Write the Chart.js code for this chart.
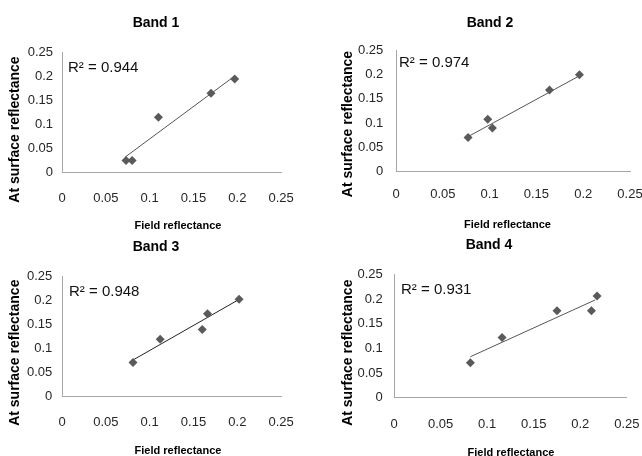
<!DOCTYPE html>
<html>
<head>
<meta charset="utf-8">
<script src="https://cdn.jsdelivr.net/npm/chart.js@4"></script>
<style>
  html, body { margin: 0; padding: 0; background: #fff; }
  body { width: 642px; height: 456px; position: relative; overflow: hidden; }
  canvas { position: absolute; }
</style>
</head>
<body>
<canvas id="band1"></canvas>
<canvas id="band2"></canvas>
<canvas id="band3"></canvas>
<canvas id="band4"></canvas>
<script>
// Values
const bandNames = ['Band 1', 'Band 2', 'Band 3', 'Band 4'];
const r2Values = [0.944, 0.974, 0.948, 0.931];

const fieldB1 = [0.073, 0.080, 0.110, 0.170, 0.197];
const surfaceB1 = [0.024, 0.024, 0.114, 0.164, 0.194];
const fieldB2 = [0.077, 0.098, 0.103, 0.164, 0.196];
const surfaceB2 = [0.070, 0.108, 0.090, 0.168, 0.199];
const fieldB3 = [0.081, 0.112, 0.160, 0.166, 0.202];
const surfaceB3 = [0.071, 0.119, 0.139, 0.172, 0.202];
const fieldB4 = [0.082, 0.116, 0.175, 0.212, 0.218];
const surfaceB4 = [0.071, 0.122, 0.176, 0.176, 0.206];

// Trend line ends (field, surface)
const trendXB1 = [0.072, 0.197], trendYB1 = [0.031, 0.200];
const trendXB2 = [0.077, 0.196], trendYB2 = [0.072, 0.197];
const trendXB3 = [0.081, 0.202], trendYB3 = [0.076, 0.2015];
const trendXB4 = [0.082, 0.216], trendYB4 = [0.083, 0.198];

const tickValues = [0, 0.05, 0.1, 0.15, 0.2, 0.25];
const tickLabels = ['0', '0.05', '0.1', '0.15', '0.2', '0.25'];

const xTitle = 'Field reflectance';
const yTitle = 'At surface reflectance';

const fieldData = [fieldB1, fieldB2, fieldB3, fieldB4];
const surfaceData = [surfaceB1, surfaceB2, surfaceB3, surfaceB4];
const trendX = [trendXB1, trendXB2, trendXB3, trendXB4];
const trendY = [trendYB1, trendYB2, trendYB3, trendYB4];

// Where each panel sits on the page (px)
const panels = [
    { left: 0,   top: 0,   w: 312, h: 236, areaL: 62, areaR: 296,   areaT: 52,   areaB: 172,
      yPad: 9,    xPad: 18.2, titleAt: [156, 23], xTitleAt: [178, 226],
      yTitleAt: [15, 129.5], r2At: [68, 68], trendColor: '#555' },
    { left: 320, top: 0,   w: 340, h: 236, areaL: 76, areaR: 310,   areaT: 50,   areaB: 171.7,
      yPad: 12.7, xPad: 14.5, titleAt: [170, 22.7], xTitleAt: [187.5, 225],
      yTitleAt: [28, 124], r2At: [79, 62.7], trendColor: '#555' },
    { left: 0,   top: 226, w: 312, h: 236, areaL: 62, areaR: 296.7, areaT: 50,   areaB: 170.7,
      yPad: 9.7,  xPad: 18.2, titleAt: [156, 20.7], xTitleAt: [178, 225],
      yTitleAt: [15, 126.7], r2At: [69, 65.7], trendColor: '#222' },
    { left: 320, top: 226, w: 338, h: 236, areaL: 74, areaR: 310,   areaT: 48.3, areaB: 171.7,
      yPad: 11.3, xPad: 18.5, titleAt: [169, 19.3], xTitleAt: [191, 226.7],
      yTitleAt: [28, 126.7], r2At: [81, 64], trendColor: '#555' }
];

const FONT = '"Liberation Sans", Arial, sans-serif';

// Panel title, axis titles and R² label
const panelText = {
    id: 'panelText',
    afterDraw(chart, args, opts) {
        const ctx = chart.ctx;
        ctx.save();
        ctx.textBaseline = 'middle';

        ctx.fillStyle = '#000';
        ctx.textAlign = 'center';
        ctx.font = 'bold 14px ' + FONT;
        ctx.fillText(opts.title, opts.titleAt[0], opts.titleAt[1]);

        ctx.font = 'bold 11px ' + FONT;
        ctx.fillText(opts.xTitle, opts.xTitleAt[0], opts.xTitleAt[1]);

        ctx.fillStyle = '#111';
        ctx.textAlign = 'left';
        ctx.font = '15px ' + FONT;
        ctx.fillText(opts.r2Text, opts.r2At[0], opts.r2At[1]);

        ctx.translate(opts.yTitleAt[0], opts.yTitleAt[1]);
        ctx.rotate(-Math.PI / 2);
        ctx.textAlign = 'center';
        ctx.fillStyle = '#000';
        ctx.font = 'bold 14px ' + FONT;
        ctx.fillText(opts.yTitle, 0, 0);
        ctx.restore();
    }
};

function makeTicks(scale) {
    scale.ticks = tickValues.map(v => ({ value: v }));
}

function buildChart(i) {
    const p = panels[i];
    const canvas = document.getElementById('band' + (i + 1));
    canvas.width = p.w;
    canvas.height = p.h;
    canvas.style.left = p.left + 'px';
    canvas.style.top = p.top + 'px';

    const points = fieldData[i].map((x, k) => ({ x: x, y: surfaceData[i][k] }));
    const trend = trendX[i].map((x, k) => ({ x: x, y: trendY[i][k] }));

    return new Chart(canvas.getContext('2d'), {
        type: 'scatter',
        data: {
            datasets: [{
                data: points,
                pointStyle: 'rectRot',
                pointRadius: 4.5,
                backgroundColor: '#5a5a5a',
                borderColor: '#5a5a5a',
                borderWidth: 0,
                order: 1
            }, {
                type: 'line',
                data: trend,
                borderColor: p.trendColor,
                borderWidth: 1,
                pointRadius: 0,
                fill: false,
                order: 2
            }]
        },
        options: {
            responsive: false,
            animation: false,
            devicePixelRatio: 1,
            layout: { padding: { left: 0, top: p.areaT, bottom: 0, right: p.w - p.areaR } },
            plugins: {
                legend: { display: false },
                tooltip: { enabled: false },
                title: { display: false },
                panelText: {
                    title: bandNames[i],
                    titleAt: p.titleAt,
                    xTitle: xTitle,
                    xTitleAt: p.xTitleAt,
                    r2Text: 'R\u00b2 = ' + r2Values[i].toFixed(3),
                    r2At: p.r2At,
                    yTitle: yTitle,
                    yTitleAt: p.yTitleAt
                }
            },
            scales: {
                x: {
                    type: 'linear',
                    min: 0,
                    max: 0.25,
                    afterBuildTicks: makeTicks,
                    afterFit: s => { s.height = p.h - p.areaB; },
                    grid: { display: false, drawTicks: false },
                    border: { display: true, color: '#a6a6a6', width: 1 },
                    ticks: {
                        padding: p.xPad,
                        maxRotation: 0,
                        color: '#262626',
                        font: { family: FONT, size: 13 },
                        callback: (v, k) => tickLabels[k]
                    }
                },
                y: {
                    type: 'linear',
                    min: 0,
                    max: 0.25,
                    afterBuildTicks: makeTicks,
                    afterFit: s => { s.width = p.areaL; },
                    grid: { display: false, drawTicks: false },
                    border: { display: true, color: '#a6a6a6', width: 1 },
                    ticks: {
                        padding: p.yPad,
                        color: '#262626',
                        font: { family: FONT, size: 13 },
                        callback: (v, k) => tickLabels[k]
                    }
                }
            }
        },
        plugins: [panelText]
    });
}

document.addEventListener('DOMContentLoaded', () => {
    for (let i = 0; i < bandNames.length; i++) {
        buildChart(i);
    }
});
</script>
</body>
</html>
